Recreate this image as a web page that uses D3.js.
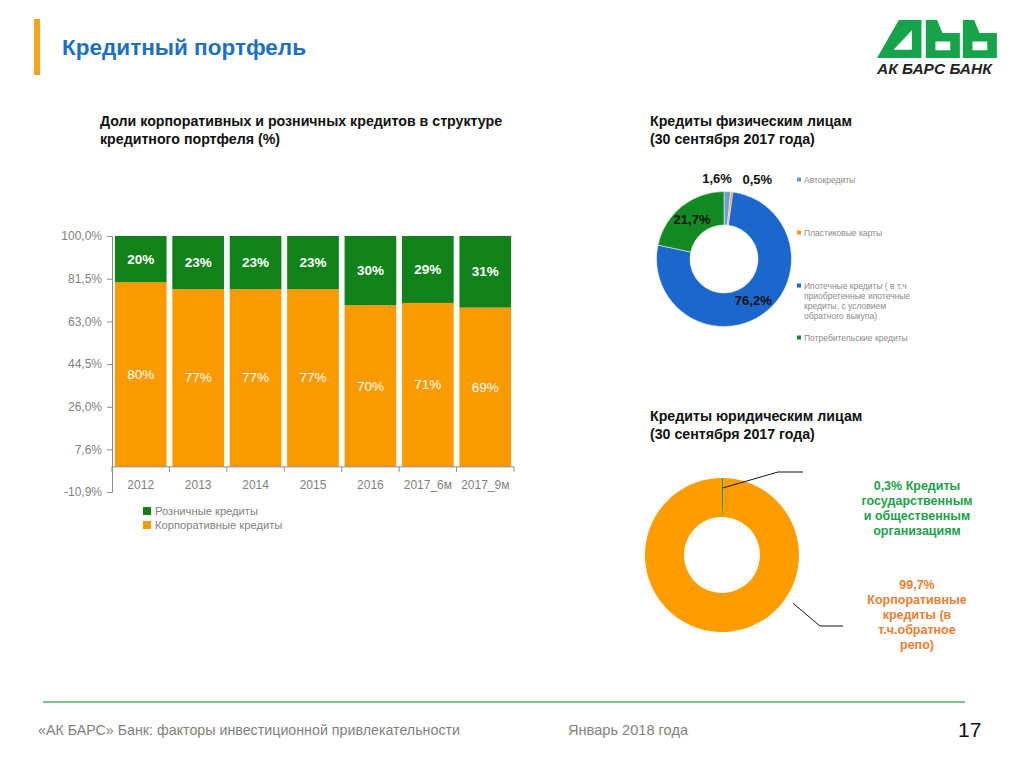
<!DOCTYPE html>
<html>
<head>
<meta charset="utf-8">
<script src="https://cdn.jsdelivr.net/npm/d3@7"></script>
<style>
  body { margin: 0; background: #fff; }
  svg { display: block; font-family: "Liberation Sans", Arial, sans-serif; }
</style>
</head>
<body>
<svg id="slide" width="1024" height="767"></svg>
<script>
// Bar chart data
const years = ["2012", "2013", "2014", "2015", "2016", "2017_6м", "2017_9м"];
const corporate = [80, 77, 77, 77, 70, 71, 69];
const retail = [20, 23, 23, 23, 30, 29, 31];
const yTicks = [100, 81.5, 63.0, 44.5, 26.0, 7.6, -10.9];
const yTickLabels = ["100,0%", "81,5%", "63,0%", "44,5%", "26,0%", "7,6%", "-10,9%"];
const barSeries = ["Розничные кредиты", "Корпоративные кредиты"];

// Retail loans donut
const retailCats = ["Автокредиты", "Пластиковые карты", "Ипотечные кредиты ( в т.ч|приобретенные ипотечные|кредиты, с условием|обратного выкупа)", "Потребительские кредиты"];
const retailShares = [1.6, 0.5, 76.2, 21.7];
const retailLabels = ["1,6%", "0,5%", "76,2%", "21,7%"];

// Corporate loans donut
const corpCats = ["0,3% Кредиты|государственным|и общественным|организациям", "99,7%|Корпоративные|кредиты (в|т.ч.обратное|репо)"];
const corpShares = [0.3, 99.7];

const GREEN = "#11811a", ORANGE = "#f99b00";
const svg = d3.select("#slide");

// ---------- Header ----------
svg.append("rect").attr("x", 34).attr("y", 19).attr("width", 6).attr("height", 56).attr("fill", "#f7a21b");
svg.append("text").attr("x", 62).attr("y", 55)
    .attr("font-weight", "bold").attr("font-size", 22).attr("fill", "#1c6fc3")
    .attr("textLength", 244).attr("lengthAdjust", "spacingAndGlyphs")
    .text("Кредитный портфель");

// Logo (stylised), drawn in its own units and fitted into the corner box
const logo = svg.append("g").attr("fill", "#17a34a")
    .attr("transform", "translate(877,20) scale(0.436,0.345) translate(-80,-18)");
logo.append("path").attr("fill-rule", "evenodd")
    .attr("d", "M80,128 L130,18 L182,18 L182,128 Z M118,104 L160,48 L160,104 Z");
[0, 85].forEach(dx => {
    logo.append("path").attr("fill-rule", "evenodd").attr("transform", `translate(${dx},0)`)
        .attr("d", "M192,18 L218,18 L230,56 L270,56 L270,128 L192,128 Z M214,80 L248,80 L248,106 L214,106 Z");
});
svg.append("text").attr("x", 877).attr("y", 74)
    .attr("font-weight", "bold").attr("font-style", "italic").attr("font-size", 15.5).attr("fill", "#222")
    .text("АК БАРС БАНК");

// ---------- Titles ----------
function title(x, y, lines) {
    const t = svg.append("text").attr("x", x).attr("y", y)
        .attr("font-weight", "bold").attr("font-size", 14.2).attr("fill", "#111");
    lines.forEach((l, i) => t.append("tspan").attr("x", x).attr("dy", i ? 18 : 0).text(l));
}
title(100, 126, ["Доли корпоративных и розничных кредитов в структуре", "кредитного портфеля (%)"]);
title(650, 126, ["Кредиты физическим лицам", "(30 сентября 2017 года)"]);
title(650, 421, ["Кредиты юридическим лицам", "(30 сентября 2017 года)"]);

// ---------- Stacked bar chart ----------
const x = d3.scaleBand().domain(years).range([112, 514]).paddingInner(0.1).paddingOuter(0.05);
const y = d3.scaleLinear().domain([-10.9, 100]).range([492, 236]);
const axisColor = "#8c8c8c", tickText = "#7f7f7f";

const bars = svg.append("g");
years.forEach((yr, i) => {
    bars.append("rect").attr("x", x(yr)).attr("width", x.bandwidth())
        .attr("y", y(corporate[i])).attr("height", y(0) - y(corporate[i])).attr("fill", ORANGE);
    bars.append("rect").attr("x", x(yr)).attr("width", x.bandwidth())
        .attr("y", y(corporate[i] + retail[i])).attr("height", y(corporate[i]) - y(corporate[i] + retail[i])).attr("fill", GREEN);
    bars.append("text").attr("x", x(yr) + x.bandwidth() / 2).attr("y", y(corporate[i] + retail[i] / 2) + 4.5)
        .attr("text-anchor", "middle").attr("font-size", 13.5).attr("font-weight", "bold").attr("fill", "#fff")
        .text(retail[i] + "%");
    bars.append("text").attr("x", x(yr) + x.bandwidth() / 2).attr("y", y(corporate[i] / 2) + 4.5)
        .attr("text-anchor", "middle").attr("font-size", 13.5).attr("fill", "#fff")
        .text(corporate[i] + "%");
});

// Y axis
const yAxis = svg.append("g").attr("transform", "translate(112,0)")
    .call(d3.axisLeft(y).tickValues(yTicks).tickSize(5).tickPadding(5)
        .tickFormat((d, i) => yTickLabels[i]));
yAxis.selectAll("path, line").attr("stroke", axisColor);
yAxis.selectAll("text").attr("fill", tickText).attr("font-size", 12).attr("font-family", "'Liberation Sans', Arial, sans-serif");

// X axis at zero
const xAxis = svg.append("g").attr("transform", `translate(0,${y(0)})`)
    .call(d3.axisBottom(x).tickSize(0).tickPadding(14).tickSizeOuter(0));
xAxis.select("path").attr("stroke", axisColor).attr("d", `M112,0H514`);
xAxis.selectAll("text").attr("fill", tickText).attr("font-size", 12).attr("font-family", "'Liberation Sans', Arial, sans-serif");
d3.range(years.length + 1).forEach(i => {
    const tx = 112 + i * x.step();
    xAxis.append("line").attr("x1", tx).attr("x2", tx).attr("y1", 0).attr("y2", 5).attr("stroke", axisColor);
});

// Legend
[GREEN, ORANGE].forEach((c, i) => {
    svg.append("rect").attr("x", 143).attr("y", 507 + i * 14).attr("width", 8).attr("height", 8).attr("fill", c);
    svg.append("text").attr("x", 155).attr("y", 515 + i * 14).attr("font-size", 11.2).attr("fill", tickText).text(barSeries[i]);
});

// ---------- Retail donut ----------
const pie = d3.pie().sort(null).value(d => d);
const c1 = { x: 724, y: 259 }, r1 = 67.5, ir1 = 34;
const retailColors = ["#6d9fd6", "#f7941d", "#1c67cb", "#138a21"];
const arc1 = d3.arc().innerRadius(ir1).outerRadius(r1);
const g1 = svg.append("g").attr("transform", `translate(${c1.x},${c1.y})`);
const arcs1 = pie(retailShares);
g1.selectAll("path").data(arcs1).join("path")
    .attr("d", arc1).attr("fill", (d, i) => retailColors[i]).attr("stroke", "#fff").attr("stroke-width", 0.5);
const outerLbl = d3.arc().innerRadius(r1 + 13).outerRadius(r1 + 13);
const nudge = [-11, 24, 0, 0];
arcs1.forEach((d, i) => {
    const p = d.data < 5 ? outerLbl.centroid(d) : arc1.centroid(d);
    g1.append("text").attr("x", p[0] + nudge[i]).attr("y", p[1] + 4.5)
        .attr("text-anchor", "middle").attr("font-size", 13).attr("font-weight", "bold").attr("fill", "#111")
        .text(retailLabels[i]);
});

// Retail legend
const legY = [180, 233, 286, 338];
retailCats.forEach((name, i) => {
    svg.append("rect").attr("x", 797).attr("y", legY[i] - 2.5).attr("width", 4).attr("height", 4).attr("fill", retailColors[i]);
    const t = svg.append("text").attr("x", 804).attr("y", legY[i] + 3).attr("font-size", 8.5).attr("fill", "#8a8a8a");
    name.split("|").forEach((l, j) => t.append("tspan").attr("x", 804).attr("dy", j ? 10 : 0).text(l));
});

// ---------- Corporate donut ----------
const c2 = { x: 722, y: 555 }, r2 = 77, ir2 = 38;
const corpColors = ["#1e9b3a", "#ff9c00"];
const arc2 = d3.arc().innerRadius(ir2).outerRadius(r2);
const g2 = svg.append("g").attr("transform", `translate(${c2.x},${c2.y})`);
const arcs2 = pie(corpShares);
g2.selectAll("path").data(arcs2).join("path")
    .attr("d", arc2).attr("fill", (d, i) => corpColors[i]);

// Leader lines
const polar = (a, r) => [Math.sin(a) * r, -Math.cos(a) * r];
const s1 = polar((arcs2[0].startAngle + arcs2[0].endAngle) / 2, r2 - 10);
g2.append("polyline").attr("fill", "none").attr("stroke", "#111").attr("stroke-width", 1)
    .attr("points", [s1, [56, -83], [81, -83]].map(p => p.join(",")).join(" "));
const s2 = polar(Math.PI * 0.69, r2 + 9);
g2.append("polyline").attr("fill", "none").attr("stroke", "#111").attr("stroke-width", 1)
    .attr("points", [s2, [98, 71], [121, 71]].map(p => p.join(",")).join(" "));

// Corporate labels
const corpText = ["#21a04a", "#ec7d31"];
const corpLblY = [490, 589];
corpCats.forEach((name, i) => {
    const t = svg.append("text").attr("x", 917).attr("y", corpLblY[i]).attr("text-anchor", "middle")
        .attr("font-size", 12.5).attr("font-weight", "bold").attr("fill", corpText[i]);
    name.split("|").forEach((l, j) => t.append("tspan").attr("x", 917).attr("dy", j ? 15 : 0).text(l));
});

// ---------- Footer ----------
svg.append("line").attr("x1", 43).attr("x2", 965).attr("y1", 702).attr("y2", 702)
    .attr("stroke", "#4caf6a").attr("stroke-width", 1.5);
svg.append("text").attr("x", 38).attr("y", 735).attr("font-size", 14.2).attr("fill", "#7f7f7f")
    .attr("textLength", 422).attr("lengthAdjust", "spacingAndGlyphs")
    .text("«АК БАРС» Банк: факторы инвестиционной привлекательности");
svg.append("text").attr("x", 568).attr("y", 735).attr("font-size", 14.6).attr("fill", "#7f7f7f")
    .text("Январь 2018 года");
svg.append("text").attr("x", 958).attr("y", 737).attr("font-size", 21).attr("fill", "#111")
    .text("17");
</script>
</body>
</html>
